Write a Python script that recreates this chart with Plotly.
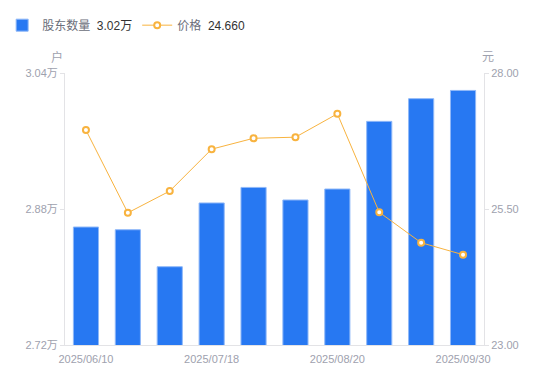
import plotly.graph_objects as go

dates = ["2025/06/10", "2025/06/20", "2025/06/30", "2025/07/18", "2025/07/31",
         "2025/08/08", "2025/08/20", "2025/08/31", "2025/09/19", "2025/09/30"]
holders_wan = [2.8588, 2.8556, 2.8121, 2.8871, 2.9054, 2.8906, 2.9035, 2.9831, 3.0098, 3.0195]
price = [26.95, 25.43, 25.83, 26.60, 26.80, 26.82, 27.25, 25.44, 24.88, 24.66]

shown_dates = ["2025/06/10", "2025/07/18", "2025/08/20", "2025/09/30"]
left_ticks = [2.72, 2.88, 3.04]
left_tick_text = ["2.72万", "2.88万", "3.04万"]
right_ticks = [23.0, 25.5, 28.0]
right_tick_text = ["23.00", "25.50", "28.00"]

BLUE = "#2778F2"
ORANGE = "#F8B33F"
GRAY = "#9EA1AE"
AXIS = "#E3E3E6"
FONT = "Liberation Sans, Noto Sans CJK SC, sans-serif"

fig = go.Figure()
fig.add_trace(go.Bar(
    x=dates, y=holders_wan, width=0.6,
    marker=dict(color=BLUE, line=dict(color="#8FB8F8", width=1)),
    name="<span style='color:#6B6E7A'>股东数量</span>  <span style='color:#333333'>3.02万</span>",
    yaxis="y",
))
fig.add_trace(go.Scatter(
    x=dates, y=price, mode="lines+markers",
    line=dict(color=ORANGE, width=1),
    marker=dict(symbol="circle", size=6, color="white", line=dict(color=ORANGE, width=2)),
    name="<span style='color:#6B6E7A'>价格</span>  <span style='color:#333333'>24.660</span>",
    yaxis="y2",
))

fig.update_layout(
    width=550, height=381,
    margin=dict(l=65, r=66, t=73, b=36),
    paper_bgcolor="white", plot_bgcolor="white",
    font=dict(family=FONT, size=11, color=GRAY),
    showlegend=True,
    legend=dict(orientation="h", xref="paper", yref="container",
                x=-0.15, y=0.972, xanchor="left", yanchor="top",
                font=dict(size=12, color="#333333"), itemwidth=30,
                traceorder="normal", itemclick=False),
    bargap=0.4,
    xaxis=dict(type="category", categoryorder="array", categoryarray=dates,
               tickmode="array", tickvals=shown_dates, ticktext=shown_dates,
               showline=True, linecolor=AXIS, linewidth=1, ticks="outside",
               ticklen=4, tickcolor="rgba(0,0,0,0)",
               showgrid=False, zeroline=False, tickfont=dict(size=11, color=GRAY),
               range=[-0.5, 9.5]),
    yaxis=dict(range=[2.72, 3.04], tickmode="array", tickvals=left_ticks,
               ticktext=left_tick_text, showline=True, linecolor=AXIS, linewidth=1,
               ticks="outside", ticklen=4, tickcolor=AXIS, showgrid=False,
               zeroline=False, tickfont=dict(size=11, color=GRAY)),
    yaxis2=dict(range=[23, 28], overlaying="y", side="right", tickmode="array",
                tickvals=right_ticks, ticktext=right_tick_text, showline=True,
                linecolor=AXIS, linewidth=1, ticks="outside", ticklen=4,
                tickcolor=AXIS, showgrid=False, zeroline=False,
                tickfont=dict(size=11, color=GRAY)),
    annotations=[
        dict(text="户", xref="paper", yref="paper", x=-0.02, y=1.0, yshift=16,
             xanchor="center", yanchor="middle", showarrow=False,
             font=dict(size=12, color=GRAY)),
        dict(text="元", xref="paper", yref="paper", x=1.01, y=1.0, yshift=16,
             xanchor="center", yanchor="middle", showarrow=False,
             font=dict(size=12, color=GRAY)),
    ],
)

fig.write_html("out.html", config={"displayModeBar": False},
               post_script="document.body.style.margin='0px';")
